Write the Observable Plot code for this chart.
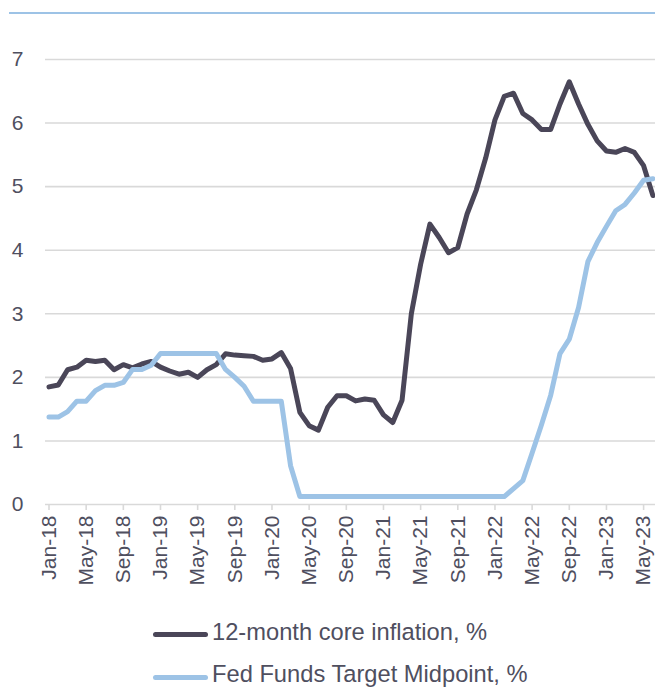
<!DOCTYPE html>
<html>
<head>
<meta charset="utf-8">
<script src="https://cdn.jsdelivr.net/npm/d3@7"></script>
<script src="https://cdn.jsdelivr.net/npm/@observablehq/plot@0.6"></script>
<style>
  html, body { margin: 0; padding: 0; background: #fff; }
  #wrap { position: relative; width: 655px; height: 690px; overflow: hidden; font-family: "Liberation Sans", Arial, sans-serif; color: #4f4f5f; }
  #topline { position: absolute; left: 9px; right: 0; top: 12px; height: 2px; background: #9dc3e6; }
  #chart { position: absolute; left: 0; top: 0; }
  .leg { position: absolute; left: 153px; height: 24px; white-space: nowrap; }
  .sw { position: absolute; left: 0; width: 55px; height: 5px; border-radius: 2.5px; }
  .lt { position: absolute; left: 59px; font-size: 23.7px; line-height: 1; }
</style>
</head>
<body>
<div id="wrap">
  <div id="topline"></div>
  <div id="chart"></div>
  <div class="leg" style="top:621px"><div class="sw" style="top:11px;background:#4a4658"></div><div class="lt" style="top:0">12-month core inflation, %</div></div>
  <div class="leg" style="top:663px"><div class="sw" style="top:12px;background:#9dc3e6"></div><div class="lt" style="top:0">Fed Funds Target Midpoint, %</div></div>
</div>
<script>
const months = [
  "Jan-18","Feb-18","Mar-18","Apr-18","May-18","Jun-18","Jul-18","Aug-18","Sep-18","Oct-18","Nov-18","Dec-18",
  "Jan-19","Feb-19","Mar-19","Apr-19","May-19","Jun-19","Jul-19","Aug-19","Sep-19","Oct-19","Nov-19","Dec-19",
  "Jan-20","Feb-20","Mar-20","Apr-20","May-20","Jun-20","Jul-20","Aug-20","Sep-20","Oct-20","Nov-20","Dec-20",
  "Jan-21","Feb-21","Mar-21","Apr-21","May-21","Jun-21","Jul-21","Aug-21","Sep-21","Oct-21","Nov-21","Dec-21",
  "Jan-22","Feb-22","Mar-22","Apr-22","May-22","Jun-22","Jul-22","Aug-22","Sep-22","Oct-22","Nov-22","Dec-22",
  "Jan-23","Feb-23","Mar-23","Apr-23","May-23","Jun-23"
];
const coreInflation = [
  1.85, 1.88, 2.12, 2.16, 2.27, 2.25, 2.27, 2.12, 2.20, 2.15, 2.21, 2.25,
  2.16, 2.10, 2.05, 2.08, 2.00, 2.12, 2.20, 2.37, 2.35, 2.34, 2.33, 2.27,
  2.29, 2.39, 2.14, 1.45, 1.24, 1.17, 1.53, 1.71, 1.71, 1.63, 1.66, 1.64,
  1.41, 1.29, 1.64, 3.00, 3.78, 4.41, 4.20, 3.96, 4.04, 4.57, 4.95, 5.45,
  6.05, 6.42, 6.47, 6.15, 6.05, 5.90, 5.90, 6.30, 6.65, 6.30, 5.98, 5.72,
  5.56, 5.54, 5.60, 5.54, 5.33, 4.86
];
const fedFundsMid = [
  1.375, 1.375, 1.46, 1.625, 1.625, 1.79, 1.875, 1.875, 1.92, 2.125, 2.125, 2.19,
  2.375, 2.375, 2.375, 2.375, 2.375, 2.375, 2.375, 2.125, 2.00, 1.86, 1.625, 1.625,
  1.625, 1.625, 0.61, 0.125, 0.125, 0.125, 0.125, 0.125, 0.125, 0.125, 0.125, 0.125,
  0.125, 0.125, 0.125, 0.125, 0.125, 0.125, 0.125, 0.125, 0.125, 0.125, 0.125, 0.125,
  0.125, 0.125, 0.25, 0.375, 0.81, 1.25, 1.72, 2.375, 2.60, 3.10, 3.82, 4.12,
  4.375, 4.62, 4.72, 4.90, 5.10, 5.125
];
const yTicks = [0, 1, 2, 3, 4, 5, 6, 7];
const xTickLabels = ["Jan-18","May-18","Sep-18","Jan-19","May-19","Sep-19","Jan-20","May-20","Sep-20","Jan-21","May-21","Sep-21","Jan-22","May-22","Sep-22","Jan-23","May-23"];

const rows = months.map((m, i) => ({i, month: m, core: coreInflation[i], fed: fedFundsMid[i]}));
const xTicks = xTickLabels.map(l => months.indexOf(l));

const textColor = "#4f4f5f";
const chart = Plot.plot({
  width: 655,
  height: 615,
  marginLeft: 45,
  marginRight: 0,
  marginTop: 59,
  marginBottom: 111,
  x: {type: "linear", domain: [0, months.length - 1], range: [48.5, 652.4], label: null},
  y: {domain: [0, 7], label: null},
  style: {fontFamily: "'Liberation Sans', Arial, sans-serif", fontSize: "21px", color: textColor, background: "transparent", overflow: "visible"},
  marks: [
    Plot.gridY(yTicks, {stroke: "#d9d9d9", strokeOpacity: 1, strokeWidth: 1.6}),
    Plot.axisY(yTicks, {tickSize: 0, tickPadding: 22, fontSize: 21, fill: textColor, label: null, tickFormat: d => String(d)}),
    Plot.axisX(xTicks, {tickSize: 6, tickPadding: 5, tickRotate: -90, fontSize: 21, stroke: "#d9d9d9", strokeWidth: 1.6, fill: textColor, label: null, tickFormat: i => months[i]}),
    Plot.lineY(rows, {x: "i", y: "core", stroke: "#4a4658", strokeWidth: 5, strokeLinejoin: "round"}),
    Plot.lineY(rows, {x: "i", y: "fed", stroke: "#9dc3e6", strokeWidth: 5, strokeLinejoin: "round"})
  ]
});
document.getElementById("chart").appendChild(chart);
</script>
</body>
</html>
